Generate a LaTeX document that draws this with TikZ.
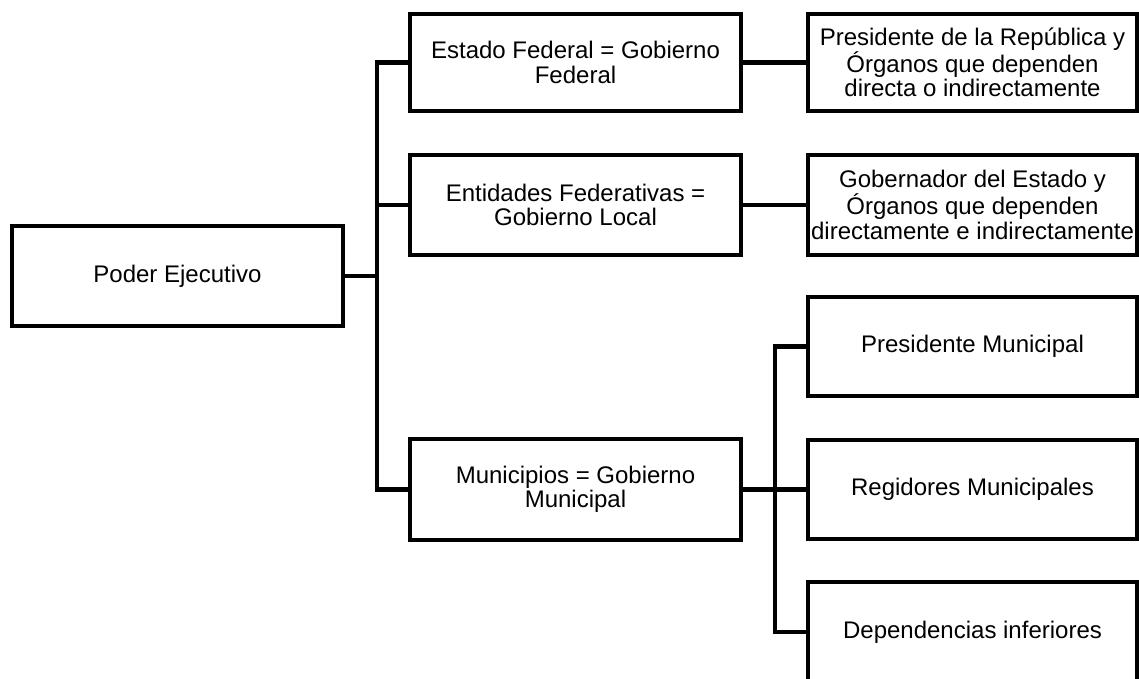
\documentclass[tikz,border=0pt]{standalone}
\usepackage{fontspec}
\setmainfont{Liberation Sans}
\begin{document}
\begin{tikzpicture}[x=1pt,y=-1pt,
  box/.style={draw=black,line width=4.5pt,fill=white,inner sep=0pt,outer sep=0pt,
    align=center,font=\fontsize{24}{24.5}\selectfont},
  lbox/.style={box,minimum width=331pt,minimum height=99pt},
  rbox/.style={box,minimum width=329pt,minimum height=99pt},
  link/.style={line width=4.5pt,line join=miter}]
\useasboundingbox (0,0) rectangle (1139,679);

% root
\node[lbox,minimum height=100pt] (pe) at (177.5,276) {Poder Ejecutivo};

% levels of government
\node[lbox,minimum height=97pt] (ef) at (575.5,62.5) {Estado Federal = Gobierno\\Federal};
\node[lbox,minimum height=100pt] (en) at (575.5,205) {Entidades Federativas =\\Gobierno Local};
\node[lbox,minimum height=101pt] (mu) at (575.5,489.5) {Municipios = Gobierno\\Municipal};

% executive organs
\node[rbox,minimum height=97pt] (pr) at (972.5,62.5) {Presidente de la República y\\Órganos que dependen\\directa o indirectamente};
\node[rbox,minimum height=100pt] (go) at (972.5,205) {Gobernador del Estado y\\Órganos que dependen\\directamente e indirectamente};
\node[rbox] (pm) at (972.5,346.5) {Presidente Municipal};
\node[rbox] (rm) at (972.5,489.5) {Regidores Municipales};
\node[rbox,minimum height=100pt] (di) at (972.5,632) {Dependencias inferiores};

% trunks
\coordinate (t) at (377,276);
\coordinate (s) at (775,489.5);

% connectors
\draw[link] (pe.east) -- (t);
\draw[link] (ef.west) -| (t) |- (mu.west);
\draw[link] (en.west) -- (en.west -| t);
\draw[link] (ef.east) -- (pr.west);
\draw[link] (en.east) -- (go.west);
\draw[link] (mu.east) -- (rm.west);
\draw[link] (pm.west) -| (s) |- (di.west);
\end{tikzpicture}
\end{document}
